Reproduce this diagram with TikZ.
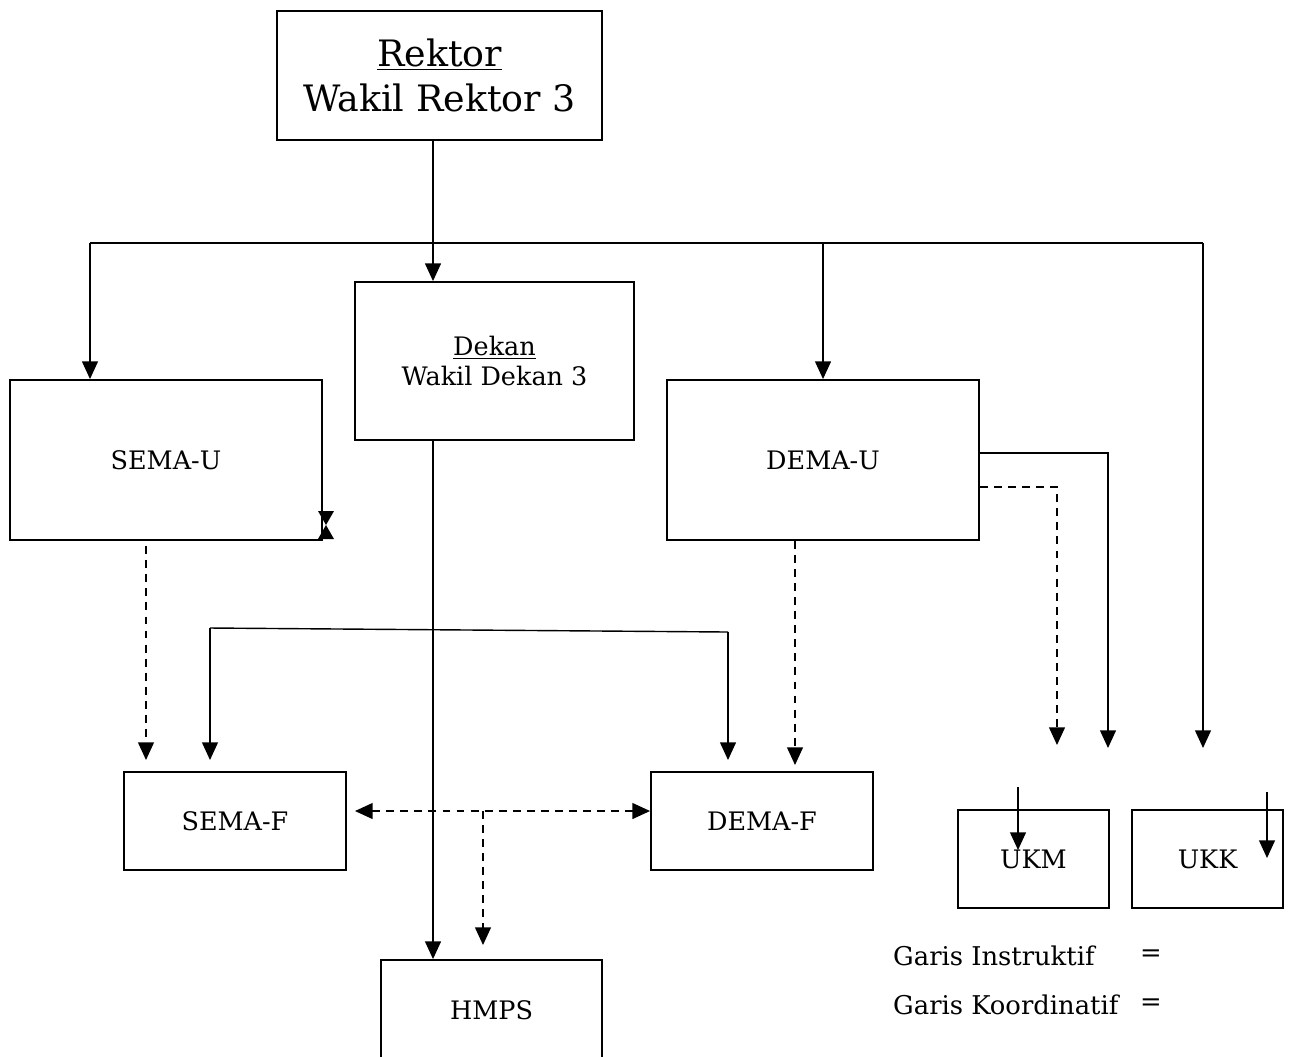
\documentclass[tikz,border=0pt]{standalone}
\usepackage{fontspec}
\setmainfont{DejaVu Serif}
\usetikzlibrary{arrows.meta, positioning, calc}

\begin{document}
\begin{tikzpicture}[
  x=0.02cm, y=-0.02cm,
  box/.style={rectangle, draw=black, line width=1.1pt, inner sep=0pt, align=center, font=\fontsize{14.5}{17.5}\selectfont},
  arrow/.style={-{Triangle[width=9pt, length=10pt]}, line width=0.8pt},
  darrow/.style={{Triangle[width=9pt, length=10pt]}-{Triangle[width=9pt, length=10pt]}, line width=0.8pt},
  line/.style={line width=0.8pt},
  dline/.style={dash pattern=on 4.5pt off 3.5pt},
  legend/.style={anchor=west, font=\fontsize{14.7}{17.5}\selectfont}
]
  \clip (0,0) rectangle (1293,1056);

  % boxes
  \node[box, minimum width=6.5cm, minimum height=2.58cm, font=\fontsize{20.7}{26}\selectfont] (rektor) at (439.5,75.5) {\underline{Rektor}\\Wakil Rektor 3};
  \node[box, minimum width=5.58cm, minimum height=3.16cm] (dekan) at (494.5,361) {\underline{Dekan}\\Wakil Dekan 3};
  \node[box, minimum width=6.24cm, minimum height=3.2cm] (semau) at (166,460) {SEMA-U};
  \node[box, minimum width=6.24cm, minimum height=3.2cm] (demau) at (823,460) {DEMA-U};
  \node[box, minimum width=4.44cm, minimum height=1.96cm] (semaf) at (235,821) {SEMA-F};
  \node[box, minimum width=4.44cm, minimum height=1.96cm] (demaf) at (762,821) {DEMA-F};
  \node[box, minimum width=4.42cm, minimum height=2cm] (hmps) at (491.5,1010) {HMPS};
  \node[box, minimum width=3.02cm, minimum height=1.96cm] (ukm) at (1033.5,859) {UKM};
  \node[box, minimum width=3.02cm, minimum height=1.96cm] (ukk) at (1207.5,859) {UKK};

  % mark at the corner of SEMA-U
  \fill (318,511) -- (334,511) -- (326,525) -- (334,539) -- (318,539) -- (326,525) -- cycle;

  % garis instruktif
  \coordinate (trunk) at (433,243);
  \coordinate (bus w) at (90,243);
  \coordinate (bus e) at (1203,243);
  \coordinate (ukk in) at (1203,748);
  \coordinate (ukm in) at (1108,748);
  \draw[arrow] (trunk |- rektor.south) -- (trunk |- dekan.north);
  \draw[line] (bus w) -- (bus e);
  \draw[arrow] (bus w) -- (bus w |- semau.north);
  \draw[arrow] (demau.north |- bus w) -- (demau.north);
  \draw[arrow] (bus e) -- (ukk in);
  \draw[arrow] ([yshift=0.14cm]demau.east) -| (ukm in);

  \coordinate (fak w) at (210,628);
  \coordinate (fak e) at (728,632);
  \coordinate (semaf in) at (146,760);
  \draw[line] (fak w) -- (fak e);
  \draw[arrow] (fak w) -- (fak w |- semaf in);
  \draw[arrow] (fak e) -- (fak e |- semaf in);
  \draw[arrow] (trunk |- dekan.south) -- (trunk |- hmps.north);

  \coordinate (ukm top) at (1018,787);
  \coordinate (ukm tip) at (1018,850);
  \coordinate (ukk top) at (1267,792);
  \coordinate (ukk tip) at (1267,858);
  \draw[arrow] (ukm top) -- (ukm tip);
  \draw[arrow] (ukk top) -- (ukk tip);

  % garis koordinatif
  \coordinate (ukm dash) at (1057,745);
  \coordinate (demaf in) at (795,765);
  \coordinate (koord w) at (355,811);
  \coordinate (hmps in) at (483,945);
  \draw[arrow, dline] ([yshift=-0.54cm]demau.east) -| (ukm dash);
  \draw[arrow, dline, shorten <=3pt] (semau.south -| semaf in) -- (semaf in);
  \draw[arrow, dline] (demau.south -| demaf in) -- (demaf in);
  \draw[darrow, dline] (koord w) -- (demaf.west |- koord w);
  \draw[arrow, dline] (hmps in |- koord w) -- (hmps in);

  % keterangan
  \node[legend] (instr) at (887,956) {Garis Instruktif};
  \node[legend] (instr eq) at (1134,956) {=};
  \node[legend] (koord) at (887,1005) {Garis Koordinatif};
  \node[legend] (koord eq) at (1134,1005) {=};
\end{tikzpicture}
\end{document}
